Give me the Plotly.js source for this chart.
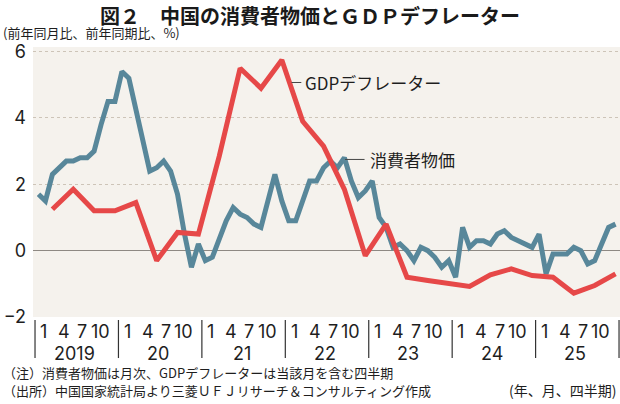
<!DOCTYPE html>
<html><head><meta charset="utf-8">
<script src="https://cdn.plot.ly/plotly-3.0.1.min.js"></script>
<style>html,body{margin:0;padding:0;background:#fff}#chart{width:620px;height:404px}</style>
</head><body><div id="chart"></div>
<script>
// ---- data ----
const years = ['2019','2020','2021','2022','2023','2024','2025'];
const yearLabels = ['2019','20','21','22','23','24','25'];
const monthTickLabels = ['1','4','7','10'];
const cpiValues = [
  1.7,1.5,2.3,2.5,2.7,2.7,2.8,2.8,3.0,3.8,4.5,4.5,
  5.4,5.2,4.3,3.3,2.4,2.5,2.7,2.4,1.7,0.5,-0.5,0.2,
  -0.3,-0.2,0.4,0.9,1.3,1.1,1.0,0.8,0.7,1.5,2.3,1.5,
  0.9,0.9,1.5,2.1,2.1,2.5,2.7,2.5,2.8,2.1,1.6,1.8,
  2.1,1.0,0.7,0.1,0.2,0.0,-0.3,0.1,0.0,-0.2,-0.5,-0.3,
  -0.8,0.7,0.1,0.3,0.3,0.2,0.5,0.6,0.4,0.3,0.2,0.1,
  0.5,-0.7,-0.1,-0.1,-0.1,0.1,0.0,-0.4,-0.3,0.2,0.7,0.8
];
const gdpDeflatorValues = [
  1.25,1.85,1.2,1.2,
  1.45,-0.3,0.55,0.5,
  2.85,5.5,4.9,5.75,
  3.9,3.15,1.85,-0.15,
  0.8,-0.8,-0.9,-1.0,
  -1.08,-0.73,-0.55,-0.75,
  -0.8,-1.28,-1.05,-0.7
];
const cpiMonths = [];
years.forEach(y => { for (let m = 1; m <= 12; m++) cpiMonths.push(y + '-' + String(m).padStart(2, '0')); });
const gdpQuarters = [];
years.forEach(y => { for (let q = 1; q <= 4; q++) gdpQuarters.push(y + 'Q' + q); });

function monthIndex(label) { const p = label.split('-').map(Number); return (p[0] - 2019) * 12 + (p[1] - 1); }
function quarterIndex(label) { const y = +label.slice(0, 4), q = +label.slice(5); return (y - 2019) * 12 + q * 3 - 1; }

// ---- styles ----
const JP = '"Noto Sans CJK JP", sans-serif';
const NUM = 'Inter, Roboto, "Liberation Sans", sans-serif';
const TXT = '#1e1e1e';

const traces = [
  { x: cpiMonths.map(monthIndex), y: cpiValues, type: 'scatter', mode: 'lines',
    line: { color: '#58879a', width: 5 }, hoverinfo: 'skip' },
  { x: gdpQuarters.map(quarterIndex), y: gdpDeflatorValues, type: 'scatter', mode: 'lines',
    line: { color: '#e64848', width: 5 }, hoverinfo: 'skip' }
];

const annotations = [];
const shapes = [];
const monthOffsets = [1.25, 4.2, 6.82, 9.38];
years.forEach((y, k) => {
  const start = 12 * k - 0.5;
  monthTickLabels.forEach((lab, j) => {
    annotations.push({ x: start + monthOffsets[j], y: -0.054, xref: 'x', yref: 'paper', text: lab,
      showarrow: false, xanchor: 'center', yanchor: 'middle', font: { family: NUM, size: 18, color: TXT } });
  });
  annotations.push({ x: start + 5.7, y: -0.136, xref: 'x', yref: 'paper', text: yearLabels[k],
    showarrow: false, xanchor: 'center', yanchor: 'middle', font: { family: NUM, size: 18, color: TXT } });
});
for (let k = 0; k <= years.length; k++) {
  shapes.push({ type: 'line', xref: 'x', yref: 'paper', x0: 12 * k - 0.5, x1: 12 * k - 0.5, y0: -0.011, y1: -0.152,
    line: { color: '#333', width: 1.2 } });
}
// series labels with leader lines
annotations.push({ x: 38.05, y: 5.07, xref: 'x', yref: 'y', text: 'GDPデフレーター', showarrow: false,
  xanchor: 'left', yanchor: 'middle', font: { family: JP, size: 17, color: TXT } });
shapes.push({ type: 'line', xref: 'x', yref: 'y', x0: 36.4, x1: 37.8, y0: 5.07, y1: 5.07, line: { color: '#444', width: 1 } });
annotations.push({ x: 47.4, y: 2.75, xref: 'x', yref: 'y', text: '消費者物価', showarrow: false,
  xanchor: 'left', yanchor: 'middle', font: { family: JP, size: 17, color: TXT } });
shapes.push({ type: 'line', xref: 'x', yref: 'y', x0: 44.1, x1: 46.9, y0: 2.75, y1: 2.75, line: { color: '#444', width: 1 } });

// texts around the plot
annotations.push({ x: -0.0545, y: 1.054, xref: 'paper', yref: 'paper', text: '(前年同月比、前年同期比、%)', showarrow: false,
  xanchor: 'left', yanchor: 'middle', font: { family: JP, size: 13, color: TXT } });
annotations.push({ x: -0.0545, y: -0.205, xref: 'paper', yref: 'paper', text: '（注）消費者物価は月次、GDPデフレーターは当該月を含む四半期', showarrow: false,
  xanchor: 'left', yanchor: 'middle', font: { family: JP, size: 13, color: TXT } });
annotations.push({ x: -0.0545, y: -0.271, xref: 'paper', yref: 'paper', text: '（出所）中国国家統計局より三菱ＵＦＪリサーチ＆コンサルティング作成', showarrow: false,
  xanchor: 'left', yanchor: 'middle', font: { family: JP, size: 13, color: TXT } });
annotations.push({ x: 0.997, y: -0.271, xref: 'paper', yref: 'paper', text: '(年、月、四半期)', showarrow: false,
  xanchor: 'right', yanchor: 'middle', font: { family: JP, size: 14, color: TXT } });

const layout = {
  width: 620, height: 404,
  margin: { l: 33, r: 0, t: 47, b: 87, pad: 0 },
  paper_bgcolor: '#ffffff', plot_bgcolor: '#f5f2ed',
  showlegend: false,
  title: { text: '<b>図２　中国の消費者物価とＧＤＰデフレーター</b>', x: 0.5, xref: 'container', xanchor: 'center',
    y: 0.957, yref: 'container', yanchor: 'middle', font: { family: JP, size: 20, color: '#1a1a1a' } },
  xaxis: { range: [-0.79, 83.64], showticklabels: false, showgrid: false, zeroline: false, showline: false, ticks: '', fixedrange: true },
  yaxis: { range: [-2, 6.14], tickvals: [-2, 0, 2, 4, 6], showgrid: true, gridcolor: '#cdc4b8', griddash: 'dot', gridwidth: 1,
    zeroline: true, zerolinecolor: '#8e8983', zerolinewidth: 1.6, showline: false, ticks: '',
    ticklabelstandoff: 6, tickfont: { family: NUM, size: 18, color: TXT }, fixedrange: true },
  annotations: annotations,
  shapes: shapes
};

Plotly.newPlot('chart', traces, layout, { staticPlot: true, displayModeBar: false });
</script>
</body></html>
